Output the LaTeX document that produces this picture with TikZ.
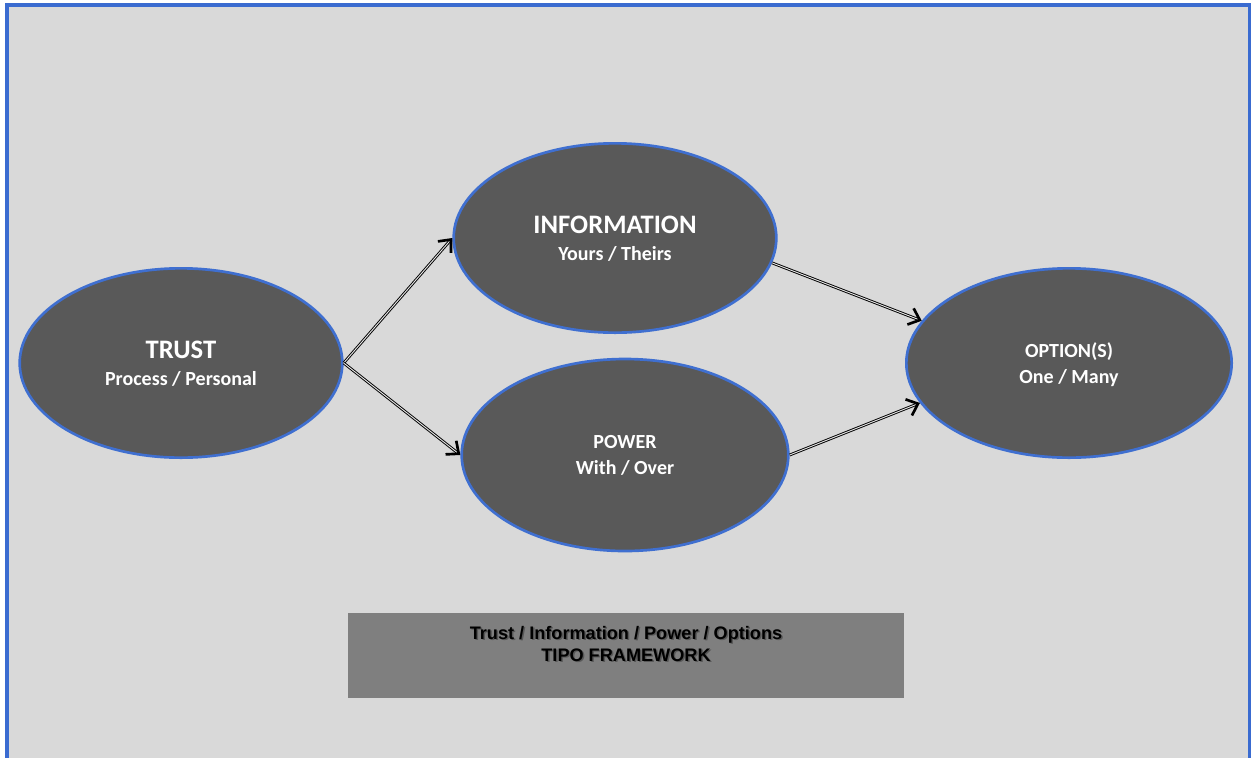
\documentclass[tikz,border=0pt]{standalone}
\usepackage{fontspec}
\setmainfont{Carlito}
\newfontfamily\arialfont{Liberation Sans}
\usepackage{tikz}
\usetikzlibrary{arrows.meta,positioning,shapes.geometric}
\definecolor{framebg}{HTML}{D9D9D9}
\definecolor{frameblue}{HTML}{3A6BD0}
\definecolor{nodefill}{HTML}{595959}
\definecolor{nodeline}{HTML}{3F6FD0}
\definecolor{boxfill}{HTML}{7F7F7F}

\begin{document}
\begin{tikzpicture}[x=0.75pt,y=-0.75pt,inner sep=0pt]
  \useasboundingbox(0,0)rectangle(1251,757);
  \fill[white](0,0)rectangle(1251,757);
  \draw[frameblue,line width=2.6pt,fill=framebg](7,5)rectangle(1250,770);
  \tikzstyle{v}=[ellipse,draw=nodeline,line width=2pt,fill=nodefill,text=white,font=\bfseries\fontsize{15}{20}\selectfont,align=center,text depth=0pt,minimum width=242pt,minimum height=142pt]
  \node[v](trust)at(181,363){{\fontsize{20}{24}\selectfont TRUST}\\Process / Personal};
  \node[v](info)at(615,238){{\fontsize{20}{24}\selectfont INFORMATION}\\Yours / Theirs};
  \node[v,minimum width=245pt,minimum height=144pt,font=\bfseries\fontsize{15}{19}\selectfont](power)at(625,455){POWER\\With / Over};
  \node[v,minimum width=244pt](opt)at(1069,363){OPTION(S)\\One / Many};
  \node[fill=boxfill,minimum width=417pt,minimum height=64pt](tipo)at(626,655.5){};
  \tikzstyle{t}=[font=\arialfont\bfseries\fontsize{13.6}{16.5}\selectfont,align=center,anchor=north]
  \node[t,text=black,opacity=0.3](tiposhadow)at(627.5,627.5){Trust / Information / Power / Options\\TIPO FRAMEWORK};
  \node[t](tipotext)at(626,626){Trust / Information / Power / Options\\TIPO FRAMEWORK};
  \tikzstyle{e}=[-{Straight Barb[length=7.5pt,width=13pt,line width=2pt]},draw=black,line width=0.7pt,double=gray!20,double distance=0.7pt]
  \foreach\o/\d in{trust.east/info.west,trust.east/power.west,info.-9/opt.164,power.east/opt.195}{\draw[e](\o)--(\d);}
\end{tikzpicture}
\end{document}
